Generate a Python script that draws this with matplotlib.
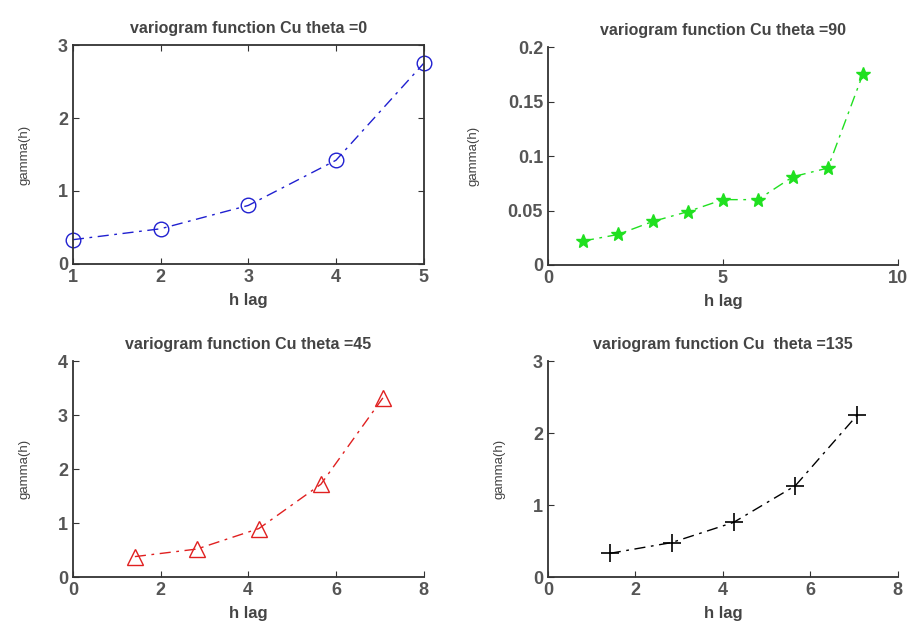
import numpy as np
import matplotlib.pyplot as plt

# variogram values
h0 = [1, 2, 3, 4, 5]
g0 = [0.33, 0.48, 0.80, 1.42, 2.75]

h90 = [1, 2, 3, 4, 5, 6, 7, 8, 9]
g90 = [0.022, 0.028, 0.040, 0.049, 0.060, 0.060, 0.081, 0.089, 0.175]

h45 = [1.414, 2.828, 4.243, 5.657, 7.071]
g45 = [0.38, 0.52, 0.90, 1.72, 3.32]

h135 = [1.414, 2.828, 4.243, 5.657, 7.071]
g135 = [0.33, 0.48, 0.76, 1.27, 2.25]

plt.rcParams['font.family'] = ['Liberation Sans', 'DejaVu Sans']

fig = plt.figure(figsize=(9.11, 6.37), dpi=100)
ax1 = fig.add_axes([0.080, 0.586, 0.385, 0.343])
ax2 = fig.add_axes([0.6015, 0.584, 0.384, 0.342])
ax3 = fig.add_axes([0.080, 0.094, 0.385, 0.339])
ax4 = fig.add_axes([0.6015, 0.094, 0.384, 0.339])

dashdot = (0, (8, 4, 2, 4))


def style(ax, title, box=False):
    ax.set_title(title, fontsize=11.5, fontweight='bold', color='#444444', pad=9)
    ax.set_xlabel('h lag', fontsize=12, fontweight='bold', color='#444444', labelpad=5)
    ax.set_ylabel('gamma(h)', fontsize=9.5, color='#444444', labelpad=20)
    ax.tick_params(direction='in', labelsize=13, labelcolor='#555555', color='#333333', length=4)
    for lab in ax.get_xticklabels() + ax.get_yticklabels():
        lab.set_fontweight('bold')
    for s in ax.spines.values():
        s.set_linewidth(1.3)
        s.set_color('#333333')
    if box:
        ax.tick_params(top=True, right=True)
    else:
        ax.spines['top'].set_visible(False)
        ax.spines['right'].set_visible(False)


ax1.plot(h0, g0, linestyle=dashdot, color='#2020d0', marker='o', markersize=10.5,
         markerfacecolor='none', markeredgewidth=1.0, linewidth=1.0, clip_on=False)
ax1.set_xlim(1, 5)
ax1.set_ylim(0, 3)
ax1.set_xticks([1, 2, 3, 4, 5])
ax1.set_yticks([0, 1, 2, 3])
style(ax1, 'variogram function Cu theta =0', box=True)

ax2.plot(h90, g90, linestyle=dashdot, color='#20e020', marker='*', markersize=10,
         markeredgewidth=1.0, linewidth=1.0, clip_on=False)
ax2.set_xlim(0, 10)
ax2.set_ylim(0, 0.2)
ax2.set_xticks([0, 5, 10])
ax2.set_yticks([0, 0.05, 0.1, 0.15, 0.2])
ax2.set_yticklabels(['0', '0.05', '0.1', '0.15', '0.2'])
style(ax2, 'variogram function Cu theta =90')

ax3.plot(h45, g45, linestyle=dashdot, color='#e02020', marker='^', markersize=11,
         markerfacecolor='none', markeredgewidth=1.0, linewidth=1.0, clip_on=False)
ax3.set_xlim(0, 8)
ax3.set_ylim(0, 4)
ax3.set_xticks([0, 2, 4, 6, 8])
ax3.set_yticks([0, 1, 2, 3, 4])
style(ax3, 'variogram function Cu theta =45')

ax4.plot(h135, g135, linestyle=dashdot, color='black', marker='+', markersize=13,
         markeredgewidth=1.2, linewidth=1.0, clip_on=False)
ax4.set_xlim(0, 8)
ax4.set_ylim(0, 3)
ax4.set_xticks([0, 2, 4, 6, 8])
ax4.set_yticks([0, 1, 2, 3])
style(ax4, 'variogram function Cu  theta =135')

fig.savefig('out.png', dpi=100)
